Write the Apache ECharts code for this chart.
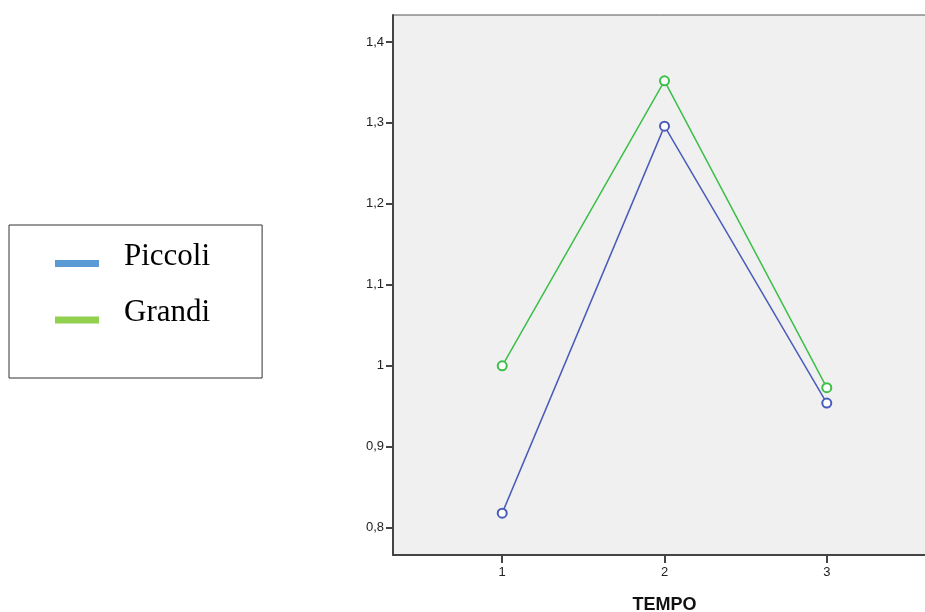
<!DOCTYPE html>
<html>
<head>
<meta charset="utf-8">
<script src="https://cdn.jsdelivr.net/npm/echarts@6/dist/echarts.min.js"></script>
<style>html,body{margin:0;padding:0;background:#fff}#c{width:925px;height:612px}</style>
</head>
<body>
<div id="c"></div>
<script>
const categories = [1, 2, 3];
const piccoli = [0.818, 1.296, 0.954];
const grandi = [1.000, 1.352, 0.973];
const yTicks = [0.8, 0.9, 1.0, 1.1, 1.2, 1.3, 1.4];
const yTickLabels = ['0,8', '0,9', '1', '1,1', '1,2', '1,3', '1,4'];
const seriesNames = ['Piccoli', 'Grandi'];

const chart = echarts.init(document.getElementById('c'), null, {renderer: 'canvas'});
const pair = (arr) => categories.map((c, i) => [c, arr[i]]);
chart.setOption({
  backgroundColor: '#ffffff',
  animation: false,
  grid: {
    left: 393, top: 15, width: 543, height: 540,
    outerBoundsMode: 'none', containLabel: false,
    show: true, backgroundColor: '#f0f0f0', borderColor: '#555', borderWidth: 1
  },
  legend: {
    orient: 'vertical',
    left: 9, top: 225,
    backgroundColor: '#fff',
    borderColor: '#333', borderWidth: 1,
    padding: [16, 52, 35, 46],
    itemGap: 11,
    itemWidth: 44, itemHeight: 7,
    icon: 'rect',
    formatter: name => '{t|' + name + '}\n{s|}',
    textStyle: {
      fontFamily: 'Liberation Serif', fontSize: 31, color: '#000', padding: [0, 0, 0, 20],
      rich: {
        t: {fontFamily: 'Liberation Serif', fontSize: 31, color: '#000', lineHeight: 36},
        s: {fontSize: 10, lineHeight: 14}
      }
    },
    data: [
      {name: seriesNames[0], itemStyle: {color: '#5b9bd5'}},
      {name: seriesNames[1], itemStyle: {color: '#92d050'}}
    ]
  },
  xAxis: {
    type: 'value', min: 0.327, max: 3.673,
    name: 'TEMPO', nameLocation: 'middle', nameGap: 41,
    nameTextStyle: {fontFamily: 'Liberation Sans', fontSize: 18, fontWeight: 'bold', color: '#111'},
    axisLine: {show: true, lineStyle: {color: '#444', width: 2}},
    axisTick: {show: true, length: 8, customValues: categories, lineStyle: {color: '#444', width: 2}},
    axisLabel: {customValues: categories, margin: 11, fontFamily: 'Liberation Sans', fontSize: 13, color: '#222',
      formatter: v => String(v)},
    splitLine: {show: false}
  },
  yAxis: {
    type: 'value', min: 0.7663, max: 1.4333,
    axisLine: {show: true, lineStyle: {color: '#444', width: 2}},
    axisTick: {show: true, length: 7, customValues: yTicks, lineStyle: {color: '#444', width: 2}},
    axisLabel: {customValues: yTicks, margin: 9, fontFamily: 'Liberation Sans', fontSize: 13, color: '#222',
      formatter: v => {
        const i = yTicks.findIndex(t => Math.abs(t - v) < 1e-6);
        return i >= 0 ? yTickLabels[i] : '';
      }},
    splitLine: {show: false}
  },
  series: [
    {
      name: seriesNames[0], type: 'line', data: pair(piccoli),
      symbol: 'emptyCircle', symbolSize: 9,
      lineStyle: {color: '#4a5cba', width: 1.5},
      itemStyle: {color: '#4a5cba', borderWidth: 1.2}
    },
    {
      name: seriesNames[1], type: 'line', data: pair(grandi),
      symbol: 'emptyCircle', symbolSize: 9,
      lineStyle: {color: '#3cbf4a', width: 1.5},
      itemStyle: {color: '#3cbf4a', borderWidth: 1.2}
    }
  ]
});
</script>
</body>
</html>
